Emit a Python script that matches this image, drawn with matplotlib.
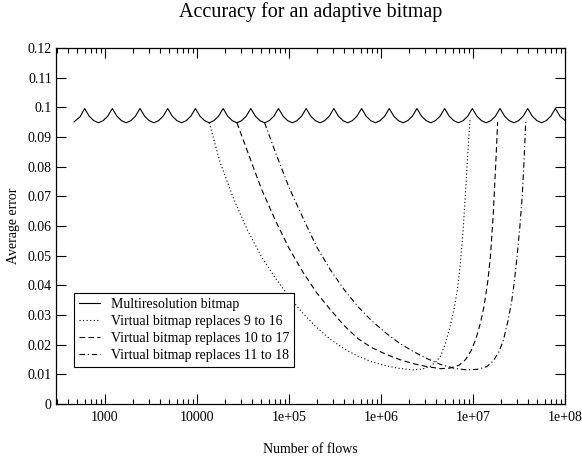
#!/usr/bin/env python3
"""Accuracy for an adaptive bitmap: multiresolution vs virtual bitmaps."""

import matplotlib
matplotlib.use("Agg")
import matplotlib.pyplot as plt
from matplotlib.ticker import FixedLocator, LogLocator, NullFormatter

# multiresolution bitmap (scalloped, one cusp per doubling of flows)
multi_flows = [
    4.60e2, 5.35e2,
    6.00e2, 6.73e2, 7.56e2, 8.49e2, 9.52e2, 1.069e3,
    1.20e3, 1.347e3, 1.512e3, 1.697e3, 1.905e3, 2.138e3,
    2.40e3, 2.694e3, 3.024e3, 3.394e3, 3.810e3, 4.277e3,
    4.80e3, 5.388e3, 6.048e3, 6.788e3, 7.619e3, 8.554e3,
    9.60e3, 1.0776e4, 1.2096e4, 1.3576e4, 1.5238e4, 1.7107e4,
    1.92e4, 2.1551e4, 2.4192e4, 2.7153e4, 3.0476e4, 3.4214e4,
    3.84e4, 4.3103e4, 4.8384e4, 5.4306e4, 6.0952e4, 6.8429e4,
    7.68e4, 8.6205e4, 9.6768e4, 1.08611e5, 1.21905e5, 1.36858e5,
    1.536e5, 1.72411e5, 1.93536e5, 2.17222e5, 2.4381e5, 2.73715e5,
    3.072e5, 3.44822e5, 3.87072e5, 4.34444e5, 4.87619e5, 5.4743e5,
    6.144e5, 6.89644e5, 7.74144e5, 8.68888e5, 9.75239e5, 1.09486e6,
    1.2288e6, 1.379289e6, 1.548288e6, 1.737776e6, 1.950477e6, 2.18972e6,
    2.4576e6, 2.758577e6, 3.096576e6, 3.475551e6, 3.900954e6, 4.37944e6,
    4.9152e6, 5.517154e6, 6.193152e6, 6.951103e6, 7.801909e6, 8.75888e6,
    9.8304e6, 1.1034e7, 1.2386e7, 1.3902e7, 1.5604e7, 1.7518e7,
    1.96608e7, 2.2069e7, 2.4773e7, 2.7804e7, 3.1208e7, 3.5035e7,
    3.93216e7, 4.4137e7, 4.9545e7, 5.5609e7, 6.2415e7, 7.0071e7,
    7.86432e7, 8.8274e7, 1.0e8,
]
multi_error = [
    0.0951, 0.0968,
    0.0996, 0.0970, 0.0955, 0.0948, 0.0955, 0.0970,
    0.0996, 0.0970, 0.0955, 0.0948, 0.0955, 0.0970,
    0.0996, 0.0970, 0.0955, 0.0948, 0.0955, 0.0970,
    0.0996, 0.0970, 0.0955, 0.0948, 0.0955, 0.0970,
    0.0996, 0.0970, 0.0955, 0.0948, 0.0955, 0.0970,
    0.0996, 0.0970, 0.0955, 0.0948, 0.0955, 0.0970,
    0.0996, 0.0970, 0.0955, 0.0948, 0.0955, 0.0970,
    0.0996, 0.0970, 0.0955, 0.0948, 0.0955, 0.0970,
    0.0996, 0.0970, 0.0955, 0.0948, 0.0955, 0.0970,
    0.0996, 0.0970, 0.0955, 0.0948, 0.0955, 0.0970,
    0.0996, 0.0970, 0.0955, 0.0948, 0.0955, 0.0970,
    0.0996, 0.0970, 0.0955, 0.0948, 0.0955, 0.0970,
    0.0996, 0.0970, 0.0955, 0.0948, 0.0955, 0.0970,
    0.0996, 0.0970, 0.0955, 0.0948, 0.0955, 0.0970,
    0.0996, 0.0970, 0.0955, 0.0948, 0.0955, 0.0970,
    0.0996, 0.0970, 0.0955, 0.0948, 0.0955, 0.0970,
    0.0996, 0.0970, 0.0955, 0.0948, 0.0955, 0.0970,
    0.0996, 0.0970, 0.0956,
]

# virtual bitmap replacing components 9..16
v9_flows = [1.3576e4, 1.7783e4, 2.5119e4, 3.5481e4, 5.0119e4, 7.0795e4,
            1.0e5, 1.41254e5, 1.99526e5, 2.81838e5, 3.98107e5, 5.62341e5,
            7.94328e5, 1.1220e6, 1.5849e6, 2.2387e6, 2.8184e6, 3.3884e6,
            3.9811e6, 4.4668e6, 5.0119e6, 5.6234e6, 6.1660e6, 6.7608e6,
            7.2444e6, 7.7625e6, 8.3176e6, 8.8105e6, 9.2683e6]
v9_error = [0.0948, 0.0815, 0.0690, 0.0585, 0.0497, 0.0425,
            0.0362, 0.0306, 0.0258, 0.0218, 0.0186, 0.0161,
            0.0142, 0.0129, 0.0120, 0.0115, 0.0118, 0.0126,
            0.0143, 0.0163, 0.0205, 0.0260, 0.0315, 0.0385,
            0.0465, 0.0575, 0.0720, 0.0855, 0.0957]

# virtual bitmap replacing components 10..17
v10_flows = [2.7136e4, 3.5481e4, 5.0119e4, 7.0795e4, 1.0e5, 1.41254e5,
             1.99526e5, 2.81838e5, 3.98107e5, 5.62341e5, 7.94328e5, 1.1220e6,
             1.5849e6, 2.2387e6, 3.1623e6, 4.4668e6, 5.6234e6, 7.0795e6,
             8.3176e6, 9.5499e6, 1.0715e7, 1.2023e7, 1.3183e7, 1.4454e7,
             1.5488e7, 1.6596e7, 1.7579e7, 1.8535e7]
v10_error = [0.0948, 0.0850, 0.0725, 0.0620, 0.0525, 0.0445,
             0.0375, 0.0318, 0.0264, 0.0220, 0.0190, 0.0168,
             0.0150, 0.0136, 0.0126, 0.0119, 0.0121, 0.0131,
             0.0150, 0.0180, 0.0218, 0.0272, 0.0330, 0.0412,
             0.0500, 0.0640, 0.0795, 0.0951]

# virtual bitmap replacing components 11..18
v11_flows = [5.4272e4, 7.0795e4, 1.0e5, 1.41254e5, 1.99526e5, 2.81838e5,
             3.98107e5, 5.62341e5, 7.94328e5, 1.1220e6, 1.5849e6, 2.2387e6,
             3.1623e6, 4.4668e6, 6.3096e6, 8.5114e6, 1.1220e7, 1.4125e7,
             1.6596e7, 1.9055e7, 2.1380e7, 2.3988e7, 2.6303e7, 2.8184e7,
             3.0200e7, 3.2359e7, 3.4277e7, 3.5892e7, 3.7411e7]
v11_error = [0.0948, 0.0850, 0.0730, 0.0628, 0.0530, 0.0452,
             0.0385, 0.0328, 0.0280, 0.0240, 0.0205, 0.0177,
             0.0153, 0.0133, 0.0120, 0.0115, 0.0117, 0.0126,
             0.0145, 0.0175, 0.0215, 0.0280, 0.0345, 0.0415,
             0.0500, 0.0600, 0.0700, 0.0820, 0.0951]

x_ticks = [1e3, 1e4, 1e5, 1e6, 1e7, 1e8]
x_tick_labels = ["1000", "10000", "1e+05", "1e+06", "1e+07", "1e+08"]
y_ticks = [0, 0.01, 0.02, 0.03, 0.04, 0.05, 0.06, 0.07, 0.08, 0.09, 0.1, 0.11, 0.12]
y_tick_labels = ["0", "0.01", "0.02", "0.03", "0.04", "0.05", "0.06",
                 "0.07", "0.08", "0.09", "0.1", "0.11", "0.12"]

plt.rcParams["font.family"] = ["Liberation Serif", "DejaVu Serif"]
plt.rcParams["font.size"] = 10

W, H = 582, 461
fig = plt.figure(figsize=(W / 100, H / 100), dpi=100)
ax = fig.add_axes([56 / W, 1 - 404 / H, 509 / W, 356 / H])

lw = 0.8
ax.plot(multi_flows, multi_error, color="black", linewidth=lw,
        label="Multiresolution bitmap")
ax.plot(v9_flows, v9_error, color="black", linewidth=lw,
        linestyle=(0, (1.0, 2.2)), label="Virtual bitmap replaces 9 to 16")
ax.plot(v10_flows, v10_error, color="black", linewidth=lw,
        linestyle=(0, (5.0, 3.0)), label="Virtual bitmap replaces 10 to 17")
ax.plot(v11_flows, v11_error, color="black", linewidth=lw,
        linestyle=(0, (5.0, 2.5, 1.0, 2.5)), label="Virtual bitmap replaces 11 to 18")

ax.set_xscale("log")
ax.set_xlim(293, 1e8)
ax.set_ylim(0, 0.12)

ax.xaxis.set_major_locator(FixedLocator(x_ticks))
ax.set_xticklabels(x_tick_labels)
ax.xaxis.set_minor_locator(LogLocator(base=10, subs=[2, 3, 4, 5, 6, 7, 8, 9], numticks=20))
ax.xaxis.set_minor_formatter(NullFormatter())
ax.set_yticks(y_ticks)
ax.set_yticklabels(y_tick_labels)

ax.tick_params(which="both", direction="in", top=True, right=True, width=0.8,
               labelsize=10, colors="black")
ax.tick_params(which="major", length=7.2)
ax.tick_params(which="minor", length=3.6)
ax.tick_params(axis="x", pad=5)
ax.tick_params(axis="y", pad=3)
for s in ax.spines.values():
    s.set_linewidth(0.9)

leg = ax.legend(loc="lower left", bbox_to_anchor=(18 / 509, 37 / 356),
                borderaxespad=0, fancybox=False, framealpha=1, edgecolor="black",
                handlelength=1.5, handletextpad=0.8, labelspacing=0.3,
                borderpad=0.35, fontsize=10)
leg.get_frame().set_linewidth(0.8)

fig.text(310.5 / W, 1 - 12 / H, "Accuracy for an adaptive bitmap",
         ha="center", va="center", fontsize=14.5)
fig.text(310.5 / W, 1 - 449 / H, "Number of flows", ha="center", va="center")
fig.text(14 / W, 1 - 226 / H, "Average error", ha="center", va="center",
         rotation=90)

fig.savefig("out.png", dpi=100)
